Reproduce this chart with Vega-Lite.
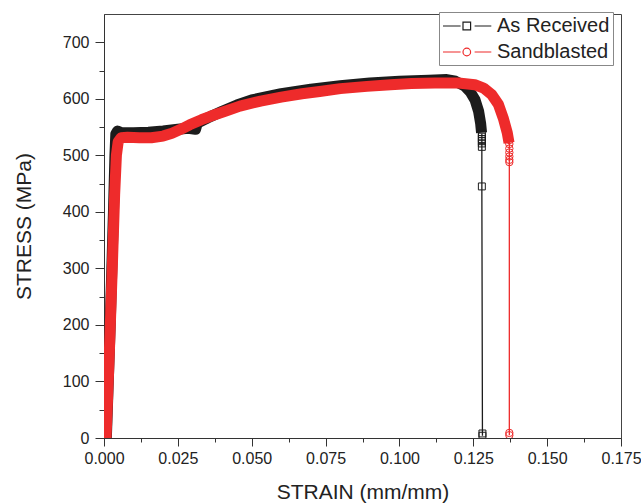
{
  "$schema": "https://vega.github.io/schema/vega-lite/v6.json",
  "width": 517,
  "height": 424,
  "autosize": {"type": "none"},
  "padding": {"left": 104, "top": 14, "right": 20, "bottom": 66},
  "background": "white",
  "config": {
    "font": "Liberation Sans",
    "view": {"stroke": "#444", "strokeWidth": 1},
    "axis": {
      "grid": false,
      "domainColor": "#333",
      "tickColor": "#333",
      "labelColor": "#222",
      "titleColor": "#222",
      "labelFont": "Liberation Sans",
      "titleFont": "Liberation Sans",
      "labelFontSize": 16,
      "titleFontSize": 21,
      "titleFontWeight": "normal",
      "labelFlush": false,
      "labelOverlap": false
    }
  },
  "datasets": {
    "band": [
      {"series": "As Received", "strain": 0.0008, "stress": 0},
      {"series": "As Received", "strain": 0.0021, "stress": 200},
      {"series": "As Received", "strain": 0.0032, "stress": 400},
      {"series": "As Received", "strain": 0.0037, "stress": 500},
      {"series": "As Received", "strain": 0.0040, "stress": 538},
      {"series": "As Received", "strain": 0.0046, "stress": 543},
      {"series": "As Received", "strain": 0.0060, "stress": 540},
      {"series": "As Received", "strain": 0.0100, "stress": 540},
      {"series": "As Received", "strain": 0.0150, "stress": 541},
      {"series": "As Received", "strain": 0.0200, "stress": 543},
      {"series": "As Received", "strain": 0.0250, "stress": 546},
      {"series": "As Received", "strain": 0.0285, "stress": 548},
      {"series": "As Received", "strain": 0.0310, "stress": 546},
      {"series": "As Received", "strain": 0.0316, "stress": 557},
      {"series": "As Received", "strain": 0.0350, "stress": 566},
      {"series": "As Received", "strain": 0.0400, "stress": 578},
      {"series": "As Received", "strain": 0.0450, "stress": 589},
      {"series": "As Received", "strain": 0.0500, "stress": 598},
      {"series": "As Received", "strain": 0.0600, "stress": 609},
      {"series": "As Received", "strain": 0.0700, "stress": 617},
      {"series": "As Received", "strain": 0.0800, "stress": 623},
      {"series": "As Received", "strain": 0.0900, "stress": 628},
      {"series": "As Received", "strain": 0.1000, "stress": 631},
      {"series": "As Received", "strain": 0.1100, "stress": 633},
      {"series": "As Received", "strain": 0.1160, "stress": 634},
      {"series": "As Received", "strain": 0.1190, "stress": 631},
      {"series": "As Received", "strain": 0.1220, "stress": 623},
      {"series": "As Received", "strain": 0.1240, "stress": 612},
      {"series": "As Received", "strain": 0.1256, "stress": 598},
      {"series": "As Received", "strain": 0.1268, "stress": 578},
      {"series": "As Received", "strain": 0.1275, "stress": 556},
      {"series": "As Received", "strain": 0.1278, "stress": 540},
      {"series": "Sandblasted", "strain": 0.0007, "stress": 0},
      {"series": "Sandblasted", "strain": 0.0018, "stress": 150},
      {"series": "Sandblasted", "strain": 0.0028, "stress": 300},
      {"series": "Sandblasted", "strain": 0.0036, "stress": 430},
      {"series": "Sandblasted", "strain": 0.0042, "stress": 500},
      {"series": "Sandblasted", "strain": 0.0048, "stress": 524},
      {"series": "Sandblasted", "strain": 0.0058, "stress": 531},
      {"series": "Sandblasted", "strain": 0.0080, "stress": 532},
      {"series": "Sandblasted", "strain": 0.0120, "stress": 531},
      {"series": "Sandblasted", "strain": 0.0160, "stress": 531},
      {"series": "Sandblasted", "strain": 0.0200, "stress": 534},
      {"series": "Sandblasted", "strain": 0.0230, "stress": 539},
      {"series": "Sandblasted", "strain": 0.0260, "stress": 546},
      {"series": "Sandblasted", "strain": 0.0290, "stress": 554},
      {"series": "Sandblasted", "strain": 0.0330, "stress": 563},
      {"series": "Sandblasted", "strain": 0.0360, "stress": 569},
      {"series": "Sandblasted", "strain": 0.0410, "stress": 578},
      {"series": "Sandblasted", "strain": 0.0460, "stress": 587},
      {"series": "Sandblasted", "strain": 0.0530, "stress": 596},
      {"series": "Sandblasted", "strain": 0.0600, "stress": 603},
      {"series": "Sandblasted", "strain": 0.0670, "stress": 609},
      {"series": "Sandblasted", "strain": 0.0730, "stress": 613},
      {"series": "Sandblasted", "strain": 0.0800, "stress": 618},
      {"series": "Sandblasted", "strain": 0.0890, "stress": 622},
      {"series": "Sandblasted", "strain": 0.0970, "stress": 625},
      {"series": "Sandblasted", "strain": 0.1040, "stress": 627},
      {"series": "Sandblasted", "strain": 0.1120, "stress": 628},
      {"series": "Sandblasted", "strain": 0.1200, "stress": 628},
      {"series": "Sandblasted", "strain": 0.1255, "stress": 625},
      {"series": "Sandblasted", "strain": 0.1285, "stress": 619},
      {"series": "Sandblasted", "strain": 0.1313, "stress": 607},
      {"series": "Sandblasted", "strain": 0.1335, "stress": 590},
      {"series": "Sandblasted", "strain": 0.1352, "stress": 565},
      {"series": "Sandblasted", "strain": 0.1365, "stress": 540},
      {"series": "Sandblasted", "strain": 0.1371, "stress": 522}
    ],
    "fracture": [
      {"series": "As Received", "strain": 0.1279, "stress": 538},
      {"series": "As Received", "strain": 0.1279, "stress": 533},
      {"series": "As Received", "strain": 0.1279, "stress": 529},
      {"series": "As Received", "strain": 0.1279, "stress": 525},
      {"series": "As Received", "strain": 0.1279, "stress": 521},
      {"series": "As Received", "strain": 0.1279, "stress": 515},
      {"series": "As Received", "strain": 0.1279, "stress": 445},
      {"series": "As Received", "strain": 0.1281, "stress": 8},
      {"series": "As Received", "strain": 0.1281, "stress": 4},
      {"series": "Sandblasted", "strain": 0.1372, "stress": 527},
      {"series": "Sandblasted", "strain": 0.1372, "stress": 520},
      {"series": "Sandblasted", "strain": 0.1372, "stress": 512},
      {"series": "Sandblasted", "strain": 0.1372, "stress": 505},
      {"series": "Sandblasted", "strain": 0.1372, "stress": 498},
      {"series": "Sandblasted", "strain": 0.1372, "stress": 492},
      {"series": "Sandblasted", "strain": 0.1372, "stress": 488},
      {"series": "Sandblasted", "strain": 0.1372, "stress": 9},
      {"series": "Sandblasted", "strain": 0.1372, "stress": 5}
    ]
  },
  "resolve": {"axis": {"x": "independent", "y": "independent"}},
  "layer": [
    {
      "data": {"name": "band"},
      "mark": {"type": "line", "strokeWidth": 11, "strokeJoin": "round", "clip": true},
      "encoding": {
        "x": {
          "field": "strain", "type": "quantitative",
          "scale": {"domain": [0, 0.175], "nice": false, "zero": false},
          "axis": {
            "orient": "bottom",
            "title": "STRAIN (mm/mm)",
            "values": [0, 0.025, 0.05, 0.075, 0.1, 0.125, 0.15, 0.175],
            "format": ".3f",
            "tickSize": 8,
            "labelPadding": 4,
            "titlePadding": 15
          }
        },
        "y": {
          "field": "stress", "type": "quantitative",
          "scale": {"domain": [0, 750], "nice": false, "zero": false},
          "axis": {
            "orient": "left",
            "title": "STRESS (MPa)",
            "values": [0, 100, 200, 300, 400, 500, 600, 700],
            "tickSize": 9,
            "labelPadding": 6,
            "titlePadding": 28
          }
        },
        "color": {
          "field": "series", "type": "nominal",
          "scale": {"domain": ["As Received", "Sandblasted"], "range": ["#1c1c1c", "#ee2b2b"]},
          "legend": {
            "orient": "none",
            "legendX": 335,
            "legendY": -2,
            "title": null,
            "labelFont": "Liberation Sans",
            "labelFontSize": 20,
            "labelColor": "#222",
            "labelOffset": 33,
            "fillColor": "white",
            "strokeColor": "#888",
            "padding": 3,
            "rowPadding": 5,
            "symbolSize": 400,
            "symbolStrokeWidth": 1.2,
            "encode": {
              "symbols": {
                "update": {
                  "shape": {"signal": "datum.value === 'As Received' ? 'M-1,0L0.76,0M2.16,0L3.83,0M1.0,-0.38L1.76,-0.38L1.76,0.38L1.0,0.38Z' : 'M-1,0L0.76,0M2.16,0L3.83,0M1.0,0A0.38,0.38,0,1,0,1.76,0A0.38,0.38,0,1,0,1.0,0Z'"},
                  "stroke": {"scale": "color", "field": "value"},
                  "fill": {"value": "transparent"},
                  "opacity": {"value": 1},
                  "strokeWidth": {"value": 1.2}
                }
              }
            }
          }
        },
        "order": {"field": "strain", "type": "quantitative"}
      }
    },
    {
      "data": {"name": "fracture"},
      "mark": {"type": "line", "strokeWidth": 1.3, "clip": true},
      "encoding": {
        "x": {
          "field": "strain", "type": "quantitative",
          "scale": {"domain": [0, 0.175], "nice": false, "zero": false},
          "axis": {
            "orient": "bottom",
            "title": null,
            "values": [0.0125, 0.0375, 0.0625, 0.0875, 0.1125, 0.1375, 0.1625],
            "labels": false,
            "domain": false,
            "tickSize": 4
          }
        },
        "y": {
          "field": "stress", "type": "quantitative",
          "scale": {"domain": [0, 750], "nice": false, "zero": false},
          "axis": {
            "orient": "left",
            "title": null,
            "values": [50, 150, 250, 350, 450, 550, 650],
            "labels": false,
            "domain": false,
            "tickSize": 5
          }
        },
        "color": {"field": "series", "type": "nominal"},
        "order": {"field": "stress", "type": "quantitative", "sort": "descending"}
      }
    },
    {
      "data": {"name": "fracture"},
      "transform": [{"filter": "datum.series === 'As Received'"}],
      "mark": {"type": "point", "shape": "square", "filled": false, "size": 48, "strokeWidth": 1, "opacity": 1, "clip": true},
      "encoding": {
        "x": {"field": "strain", "type": "quantitative", "scale": {"domain": [0, 0.175], "nice": false, "zero": false}, "axis": null},
        "y": {"field": "stress", "type": "quantitative", "scale": {"domain": [0, 750], "nice": false, "zero": false}, "axis": null},
        "color": {"field": "series", "type": "nominal"}
      }
    },
    {
      "data": {"name": "fracture"},
      "transform": [{"filter": "datum.series === 'Sandblasted'"}],
      "mark": {"type": "point", "shape": "circle", "filled": false, "size": 55, "strokeWidth": 1, "opacity": 1, "clip": true},
      "encoding": {
        "x": {"field": "strain", "type": "quantitative", "scale": {"domain": [0, 0.175], "nice": false, "zero": false}, "axis": null},
        "y": {"field": "stress", "type": "quantitative", "scale": {"domain": [0, 750], "nice": false, "zero": false}, "axis": null},
        "color": {"field": "series", "type": "nominal"}
      }
    }
  ]
}
